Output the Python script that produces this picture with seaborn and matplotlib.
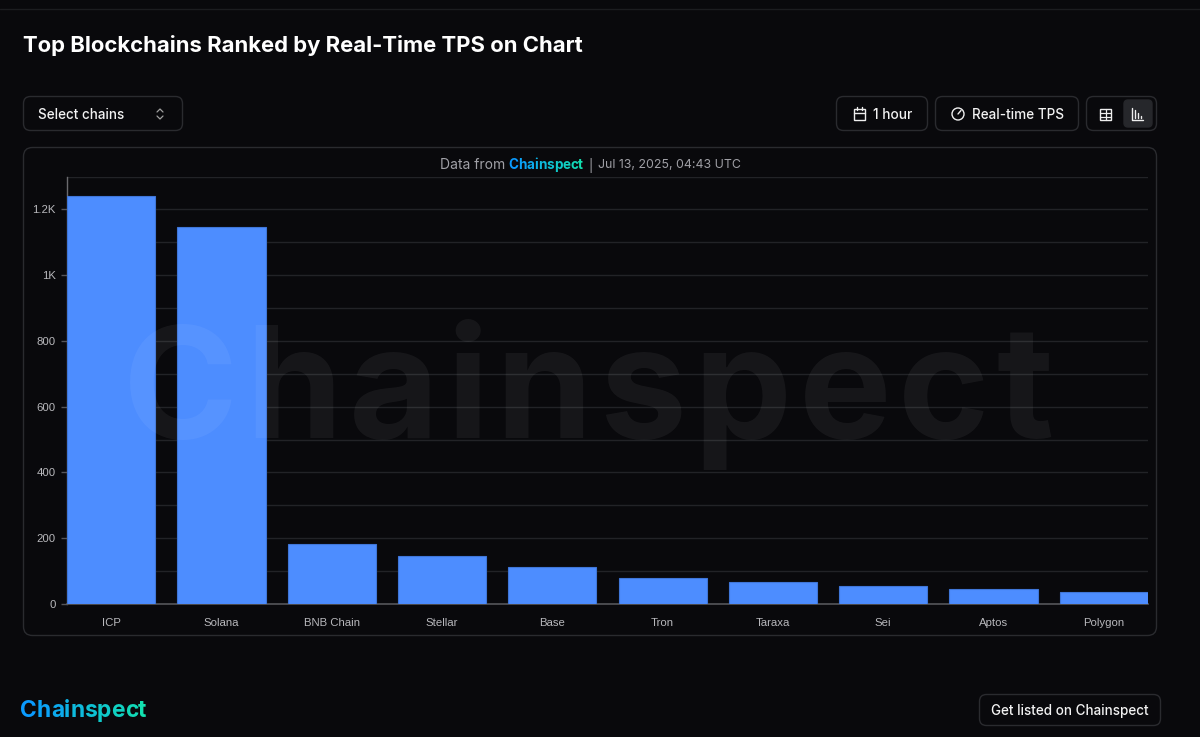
"""
Top blockchains by real-time TPS, dark dashboard style bar chart.
"""

import matplotlib
matplotlib.use('Agg')
import matplotlib.pyplot as plt
from matplotlib.patches import FancyBboxPatch, Circle, Rectangle
import numpy as np
import pandas as pd
import seaborn as sns

# Data
chains = ['ICP', 'Solana', 'BNB Chain', 'Stellar', 'Base', 'Tron', 'Taraxa', 'Sei', 'Aptos', 'Polygon']
tps = [1240, 1147, 182, 146, 113, 79, 67, 55, 45, 35]
y_ticks = [0, 200, 400, 600, 800, 1000, 1200]
y_tick_labels = ['0', '200', '400', '600', '800', '1K', '1.2K']
y_grid = [100, 300, 500, 700, 900, 1100, 1300]

BG = '#09090c'
BORDER = '#2a2b2f'
GRID = '#222327'
BAR = '#4d8dff'
W, H = 1200, 737

sns.set_theme(style='dark')
plt.rcParams['font.family'] = ['Inter', 'DejaVu Sans']

fig = plt.figure(figsize=(W / 100, H / 100), dpi=100, facecolor=BG)


def pixel_axes(zorder):
    """Full figure axes that work in image pixels."""
    layer = fig.add_axes([0, 0, 1, 1], zorder=zorder)
    layer.set_xlim(0, W)
    layer.set_ylim(H, 0)
    layer.axis('off')
    return layer


page = pixel_axes(0)
front = pixel_axes(2)


def box(x, y, w, h, radius=7, face='none', edge=BORDER, lw=1.0):
    page.add_patch(FancyBboxPatch((x + radius, y + radius), w - 2 * radius, h - 2 * radius,
                                  boxstyle=f'round,pad={radius}', fc=face, ec=edge, lw=lw))


def letter_text(layer, x, y, text, size, start, end, weight='bold', tracking=0, alpha=1, va='center'):
    """Draw text one letter at a time, blending colours and adding letter spacing."""
    renderer = fig.canvas.get_renderer()
    c0, c1 = np.array(matplotlib.colors.to_rgb(start)), np.array(matplotlib.colors.to_rgb(end))
    probe = layer.text(0, 0, '', fontsize=size, fontweight=weight)
    for i, ch in enumerate(text):
        probe.set_text(text[:i] + ch)
        full = probe.get_window_extent(renderer).width
        probe.set_text(ch)
        left = full - probe.get_window_extent(renderer).width
        frac = i / max(len(text) - 1, 1)
        layer.text(x + left + i * tracking, y, ch, fontsize=size, fontweight=weight, va=va, ha='left',
                   color=c0 + (c1 - c0) * frac, alpha=alpha)
    probe.remove()


page.plot([0, W], [8.5, 8.5], color='#1c1d20', lw=1)

# Header and controls
page.text(23, 45, 'Top Blockchains Ranked by Real-Time TPS on Chart', fontsize=15.9,
          fontweight='bold', color='white', va='center', ha='left')

box(23.5, 96.5, 159, 34)
page.text(38, 115, 'Select chains', fontsize=9.7, fontweight='medium', color='#f2f2f2', va='center')
page.plot([157, 160, 163], [112, 109, 112], color='#a0a0a0', lw=0.9)
page.plot([157, 160, 163], [116, 119, 116], color='#a0a0a0', lw=0.9)

box(836.5, 96.5, 91, 34)
page.add_patch(Rectangle((853.5, 109), 11, 11, fc='none', ec='#eeeeee', lw=1))
page.plot([853.5, 864.5], [112.5, 112.5], color='#eeeeee', lw=1)
page.plot([856.5, 856.5], [107, 110], color='#eeeeee', lw=1)
page.plot([861.5, 861.5], [107, 110], color='#eeeeee', lw=1)
page.text(873, 115, '1 hour', fontsize=9.8, fontweight='medium', color='#f2f2f2', va='center')

box(935.5, 96.5, 143, 34)
page.add_patch(Circle((958, 114), 6, fc='none', ec='#eeeeee', lw=1))
page.plot([958, 961], [114, 110.5], color='#eeeeee', lw=1)
page.text(972, 115, 'Real-time TPS', fontsize=9.75, fontweight='medium', color='#f2f2f2', va='center')

box(1086.5, 96.5, 70, 34)
box(1124, 100, 28, 27, radius=4, face='#26272b', edge='#26272b')
page.add_patch(Rectangle((1100, 109), 11, 11, fc='none', ec='#eeeeee', lw=1))
page.plot([1100, 1111], [112.5, 112.5], color='#eeeeee', lw=0.9)
page.plot([1100, 1111], [116.5, 116.5], color='#eeeeee', lw=0.9)
page.plot([1105.5, 1105.5], [109, 120], color='#eeeeee', lw=0.9)
page.plot([1132, 1132, 1143], [108, 120, 120], color='#eeeeee', lw=1)
for px, top in zip([1135, 1138, 1141], [110, 113, 116]):
    page.plot([px, px], [top, 118], color='#eeeeee', lw=1)

# Chart card
box(23.5, 147.5, 1133, 488, radius=9)
page.text(505, 165, 'Data from', fontsize=10, color='#a0a0a6', va='center', ha='right')
letter_text(page, 508, 165, 'Chainspect', 9.7, '#0a9bff', '#12e0b0')
page.text(590, 165, '|', fontsize=9, color='#a0a0a6', va='center', ha='center')
page.text(598, 165, 'Jul 13, 2025, 04:43 UTC', fontsize=8.9, color='#a0a0a6', va='center', ha='left')

# Watermark sits over the bars, very faint
letter_text(front, 123, 438, 'Chainspect', 112, 'white', 'white', tracking=7, alpha=0.055,
            va='baseline')

# Footer
letter_text(page, 20, 711, 'Chainspect', 16.4, '#0a9bff', '#12e0b0')
box(979.5, 694.5, 181, 31)
page.text(1070, 711, 'Get listed on Chainspect', fontsize=9.7, fontweight='medium', color='#f2f2f2',
          va='center', ha='center')

# Bars
ax = fig.add_axes([67 / W, 1 - 604 / H, (1148 - 67) / W, (604 - 176.5) / H], zorder=1)
ax.patch.set_alpha(0)
df = pd.DataFrame({'chain': chains, 'tps': tps})
sns.barplot(data=df, x='chain', y='tps', color=BAR, saturation=1, width=0.8, ax=ax,
            edgecolor='#3f76d8', linewidth=0.8, zorder=3)
ax.set_xlim(-0.4, len(chains) - 0.6)
ax.set_ylim(0, 1300)
ax.set_xlabel('')
ax.set_ylabel('')

ax.set_yticks(y_ticks)
ax.set_yticklabels(y_tick_labels)
ax.set_yticks(y_grid, minor=True)
ax.grid(True, axis='y', which='both', color=GRID, lw=1, zorder=0)
ax.grid(False, axis='x')
ax.set_axisbelow(True)
ax.tick_params(axis='y', which='major', length=4, width=1, color='#555559', labelcolor='#b8b8bc',
               labelsize=8.2, pad=4, left=True)
ax.tick_params(axis='y', which='minor', length=0)
ax.tick_params(axis='x', length=0, labelcolor='#b8b8bc', labelsize=8.2, pad=10)
for label in ax.get_xticklabels() + ax.get_yticklabels():
    label.set_fontfamily(['Liberation Sans', 'DejaVu Sans'])

sns.despine(ax=ax, top=True, right=True)
ax.spines['left'].set_color('#6a6a6e')
ax.spines['bottom'].set_color('#55555a')
ax.spines['left'].set_linewidth(1)
ax.spines['bottom'].set_linewidth(1.2)

fig.savefig('out.png', dpi=100, facecolor=BG)
